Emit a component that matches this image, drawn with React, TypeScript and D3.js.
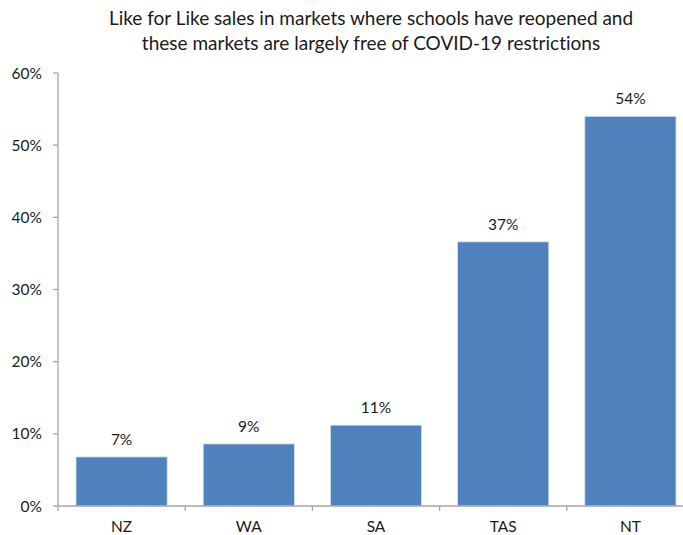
import React from "react";
import * as d3 from "d3";

// Like-for-like sales growth by market
const markets = ["NZ", "WA", "SA", "TAS", "NT"];
const salesGrowth = [0.068, 0.086, 0.112, 0.366, 0.54];
const yTicks = [0, 0.1, 0.2, 0.3, 0.4, 0.5, 0.6];
const titleLines = [
  "Like for Like sales in markets where schools have reopened and",
  "these markets are largely free of COVID-19 restrictions",
];

const W = 683;
const H = 535;
const FONT = "Lato, 'Open Sans', sans-serif";
const INK = "#1a1a1a";

export default function App() {
  const left = 58;
  const right = 694;
  const top = 73;
  const bottom = 506;

  const x = d3.scaleBand<string>().domain(markets).range([left, right]).paddingInner(0.283).paddingOuter(0.1415);
  const y = d3.scaleLinear().domain([0, 0.6]).range([bottom, top]);
  const pct = d3.format(".0%");
  const boundaries = d3.range(markets.length + 1).map((i) => left + (i * (right - left)) / markets.length);

  return (
    <svg
      width={W}
      height={H}
      style={{ position: "absolute", left: 0, top: 0, background: "#fff", fontVariantLigatures: "none" }}
    >
      <g fontFamily={FONT} fill={INK}>
        {titleLines.map((t, i) => (
          <text key={i} x={371} y={25 + i * 24.5} textAnchor="middle" fontSize={19}>
            {t}
          </text>
        ))}
      </g>

      {/* y axis */}
      <line x1={left} x2={left} y1={top} y2={bottom} stroke="#a6a6a6" strokeWidth={1.3} />
      {yTicks.map((t) => (
        <g key={t}>
          <line x1={left - 5} x2={left} y1={y(t)} y2={y(t)} stroke="#a6a6a6" strokeWidth={1.3} />
          <text x={42} y={y(t)} dy="0.36em" textAnchor="end" fontSize={15.5} fontFamily={FONT} fill={INK}>
            {pct(t)}
          </text>
        </g>
      ))}

      {/* bars */}
      {markets.map((m, i) => (
        <g key={m}>
          <rect
            x={x(m)!}
            y={y(salesGrowth[i])}
            width={x.bandwidth()}
            height={bottom - y(salesGrowth[i])}
            fill="#4f81bd"
            stroke="#d6e2f0"
            strokeWidth={0.8}
          />
          <text
            x={x(m)! + x.bandwidth() / 2}
            y={y(salesGrowth[i]) - 12}
            textAnchor="middle"
            fontSize={15.5}
            fontFamily={FONT}
            fill={INK}
          >
            {pct(salesGrowth[i])}
          </text>
          <text x={x(m)! + x.bandwidth() / 2} y={532} textAnchor="middle" fontSize={15.5} fontFamily={FONT} fill={INK}>
            {m}
          </text>
        </g>
      ))}

      {/* x axis */}
      <line x1={left} x2={right} y1={bottom} y2={bottom} stroke="#a6a6a6" strokeWidth={1.3} />
      {boundaries.map((b, i) => (
        <line key={i} x1={b} x2={b} y1={bottom} y2={bottom + 5} stroke="#a6a6a6" strokeWidth={1.3} />
      ))}
    </svg>
  );
}
